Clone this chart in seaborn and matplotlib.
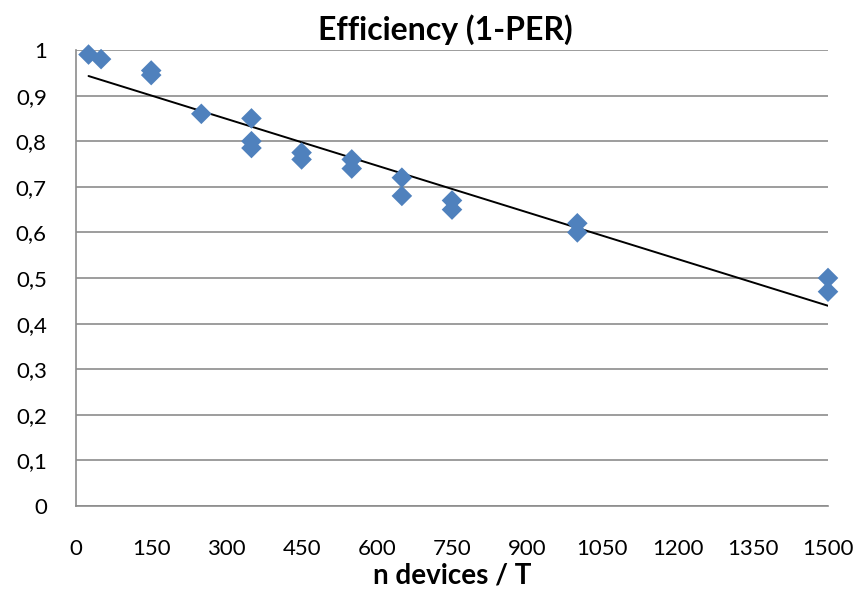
import numpy as np
import pandas as pd
import seaborn as sns
import matplotlib
matplotlib.use("Agg")
import matplotlib.pyplot as plt
from matplotlib.ticker import FuncFormatter

n_devices = [25, 50, 150, 150, 250, 350, 350, 350, 450, 450,
             550, 550, 650, 650, 750, 750, 1000, 1000, 1500, 1500]
efficiency = [0.99, 0.98, 0.955, 0.945, 0.86, 0.85, 0.80, 0.785, 0.775, 0.76,
              0.76, 0.74, 0.72, 0.68, 0.67, 0.65, 0.62, 0.60, 0.50, 0.47]
x_ticks = [0, 150, 300, 450, 600, 750, 900, 1050, 1200, 1350, 1500]
y_ticks = [0, 0.1, 0.2, 0.3, 0.4, 0.5, 0.6, 0.7, 0.8, 0.9, 1.0]
title = "Efficiency (1-PER)"
x_label = "n devices / T"

df = pd.DataFrame({"n": n_devices, "eff": efficiency})

sns.set_theme(style="white")
plt.rcParams["font.family"] = ["Lato", "DejaVu Sans"]
plt.rcParams["text.color"] = "black"
plt.rcParams["axes.labelcolor"] = "black"

fig = plt.figure(figsize=(8.6, 6), dpi=100)
ax = fig.add_axes([76/860, 1 - 506/600, (828-76)/860, (506-50)/600])

sns.regplot(data=df, x="n", y="eff", ax=ax, scatter=False, ci=None, truncate=True,
            line_kws={"color": "black", "linewidth": 1.4})
sns.scatterplot(data=df, x="n", y="eff", ax=ax, marker="D", s=110,
                color="#4F81BD", edgecolor="none", zorder=3, clip_on=False)

ax.set_xlim(0, 1500)
ax.set_ylim(0, 1)
ax.set_xticks(x_ticks)
ax.set_yticks(y_ticks)
ax.yaxis.set_major_formatter(FuncFormatter(lambda v, p: ("%g" % round(v, 1)).replace(".", ",")))
ax.tick_params(axis="both", labelsize=16, colors="#888888", length=7, width=1.2,
               direction="out", labelcolor="black")
ax.tick_params(axis="x", pad=17)
ax.tick_params(axis="y", pad=14)
ax.grid(axis="y", color="#8c8c8c", linewidth=1.2)
ax.grid(axis="x", visible=False)
ax.set_axisbelow(True)
for s in ["top", "right"]:
    ax.spines[s].set_visible(False)
for s in ["left", "bottom"]:
    ax.spines[s].set_color("#8c8c8c")
    ax.spines[s].set_linewidth(1.2)

ax.set_xlabel(x_label, fontsize=20, fontweight="bold", labelpad=2, color="black")
ax.set_ylabel("")
fig.text(445/860, 1 - 30/600, title, fontsize=23, fontweight="bold",
         ha="center", va="center", color="black")

fig.savefig("out.png", dpi=100)
